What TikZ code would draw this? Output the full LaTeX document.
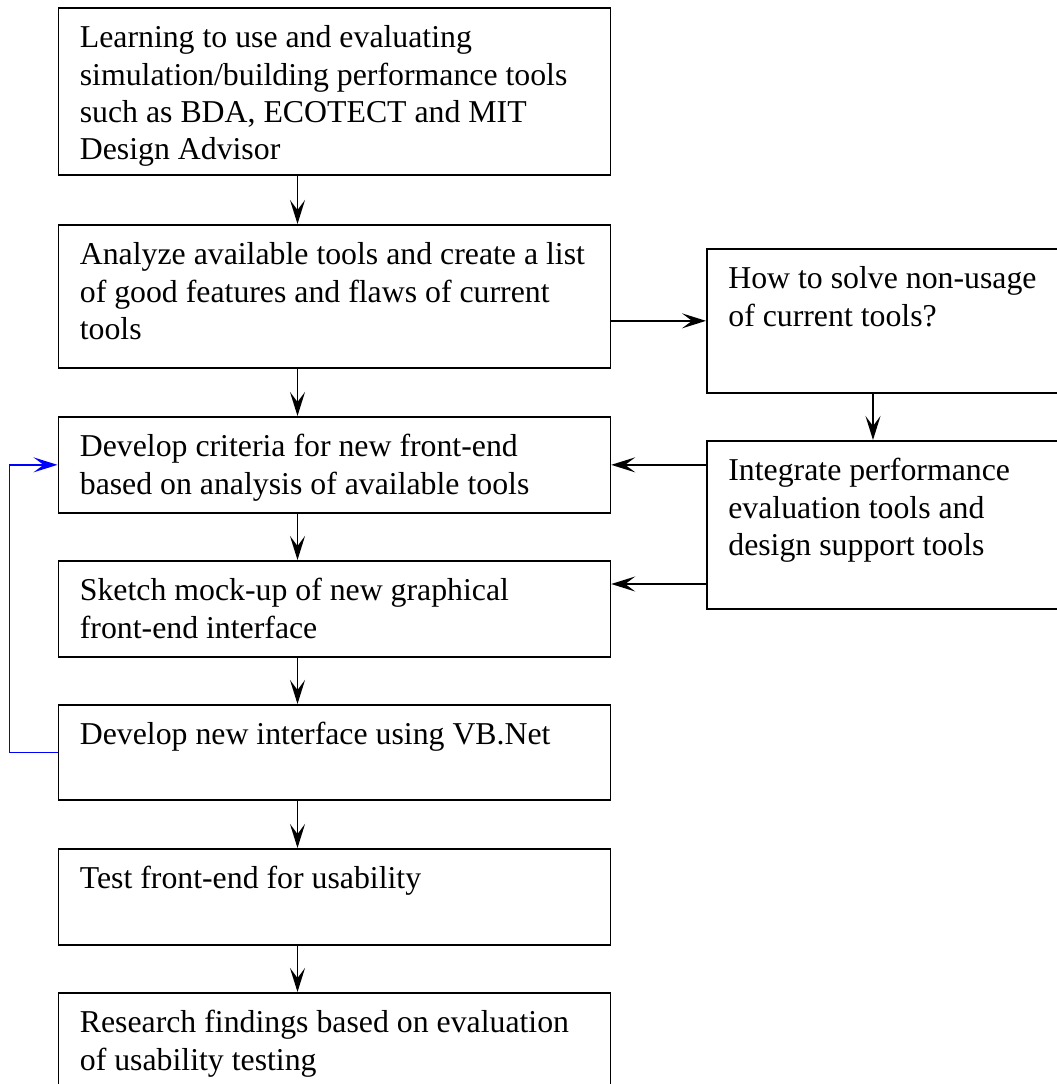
\documentclass[tikz,border=0pt]{standalone}
\usepackage{fontspec}
\setmainfont{Liberation Serif}
\usetikzlibrary{arrows.meta}
\definecolor{colorline}{RGB}{0,0,0}
\definecolor{colorloop}{RGB}{0,0,255}
\newcommand{\steptext}[3]{\parbox[t][#2][t]{#1}{\raggedright\strut #3}}

\begin{document}
\begin{tikzpicture}[
    x=1pt, y=-1pt,
    font={\fontsize{31.8}{37.3}\selectfont},
    stepbox/.style={draw=colorline,line width=1.7pt,anchor=north west,
        inner xsep=21.5pt,inner ysep=14pt},
    flow/.style={draw=colorline,line width=1.7pt,
        -{Stealth[length=24pt,width=15pt,inset=10pt]}},
    loopback/.style={flow,draw=colorloop},
]

    \useasboundingbox (0,0) rectangle (1057,1084);
    \clip (0,0) rectangle (1057,1084);

    % main column
    \node[stepbox] (b1) at (57.5,7) {\steptext{509pt}{139pt}{Learning to use and evaluating\\
    simulation/building performance tools\\
    such as BDA, ECOTECT and MIT\\
    Design Advisor}};
    \node[stepbox] (b2) at (57.5,224) {\steptext{509pt}{115pt}{Analyze available tools and create a list\\
    of good features and flaws of current\\
    tools}};
    \node[stepbox] (b3) at (57.5,416) {\steptext{509pt}{68pt}{Develop criteria for new front-end\\
    based on analysis of available tools}};
    \node[stepbox] (b4) at (57.5,560) {\steptext{509pt}{68pt}{Sketch mock-up of new graphical\\
    front-end interface}};
    \node[stepbox] (b5) at (57.5,704) {\steptext{509pt}{67pt}{Develop new interface using VB.Net}};
    \node[stepbox] (b6) at (57.5,848) {\steptext{509pt}{68pt}{Test front-end for usability}};
    \node[stepbox] (b7) at (57.5,992) {\steptext{509pt}{80pt}{Research findings based on evaluation\\
    of usability testing}};

    % side column
    \node[stepbox] (bA) at (706,248) {\steptext{330pt}{116pt}{How to solve non-usage\\
    of current tools?}};
    \node[stepbox] (bB) at (706,440) {\steptext{330pt}{140pt}{Integrate performance\\
    evaluation tools and\\
    design support tools}};

    \draw[flow] ([xshift=240pt]b1.south west) -- ([xshift=240pt]b2.north west);
    \draw[flow] ([xshift=240pt]b2.south west) -- ([xshift=240pt]b3.north west);
    \draw[flow] ([xshift=240pt]b3.south west) -- ([xshift=240pt]b4.north west);
    \draw[flow] ([xshift=240pt]b4.south west) -- ([xshift=240pt]b5.north west);
    \draw[flow] ([xshift=240pt]b5.south west) -- ([xshift=240pt]b6.north west);
    \draw[flow] ([xshift=240pt]b6.south west) -- ([xshift=240pt]b7.north west);

    \coordinate (aout) at ([xshift=167pt]bA.south west);
    \coordinate (b4in) at ([yshift=-24pt]b4.north east);
    \draw[flow] (b2.east |- bA.west) -- (bA.west);
    \draw[flow] (aout) -- (aout |- bB.north);
    \draw[flow] (bB.west |- b3.east) -- (b3.east);
    \draw[flow] (bB.west |- b4in) -- (b4in);

    \draw[loopback] (b5.west) -- ++(-48,0) |- (b3.west);

\end{tikzpicture}
\end{document}
